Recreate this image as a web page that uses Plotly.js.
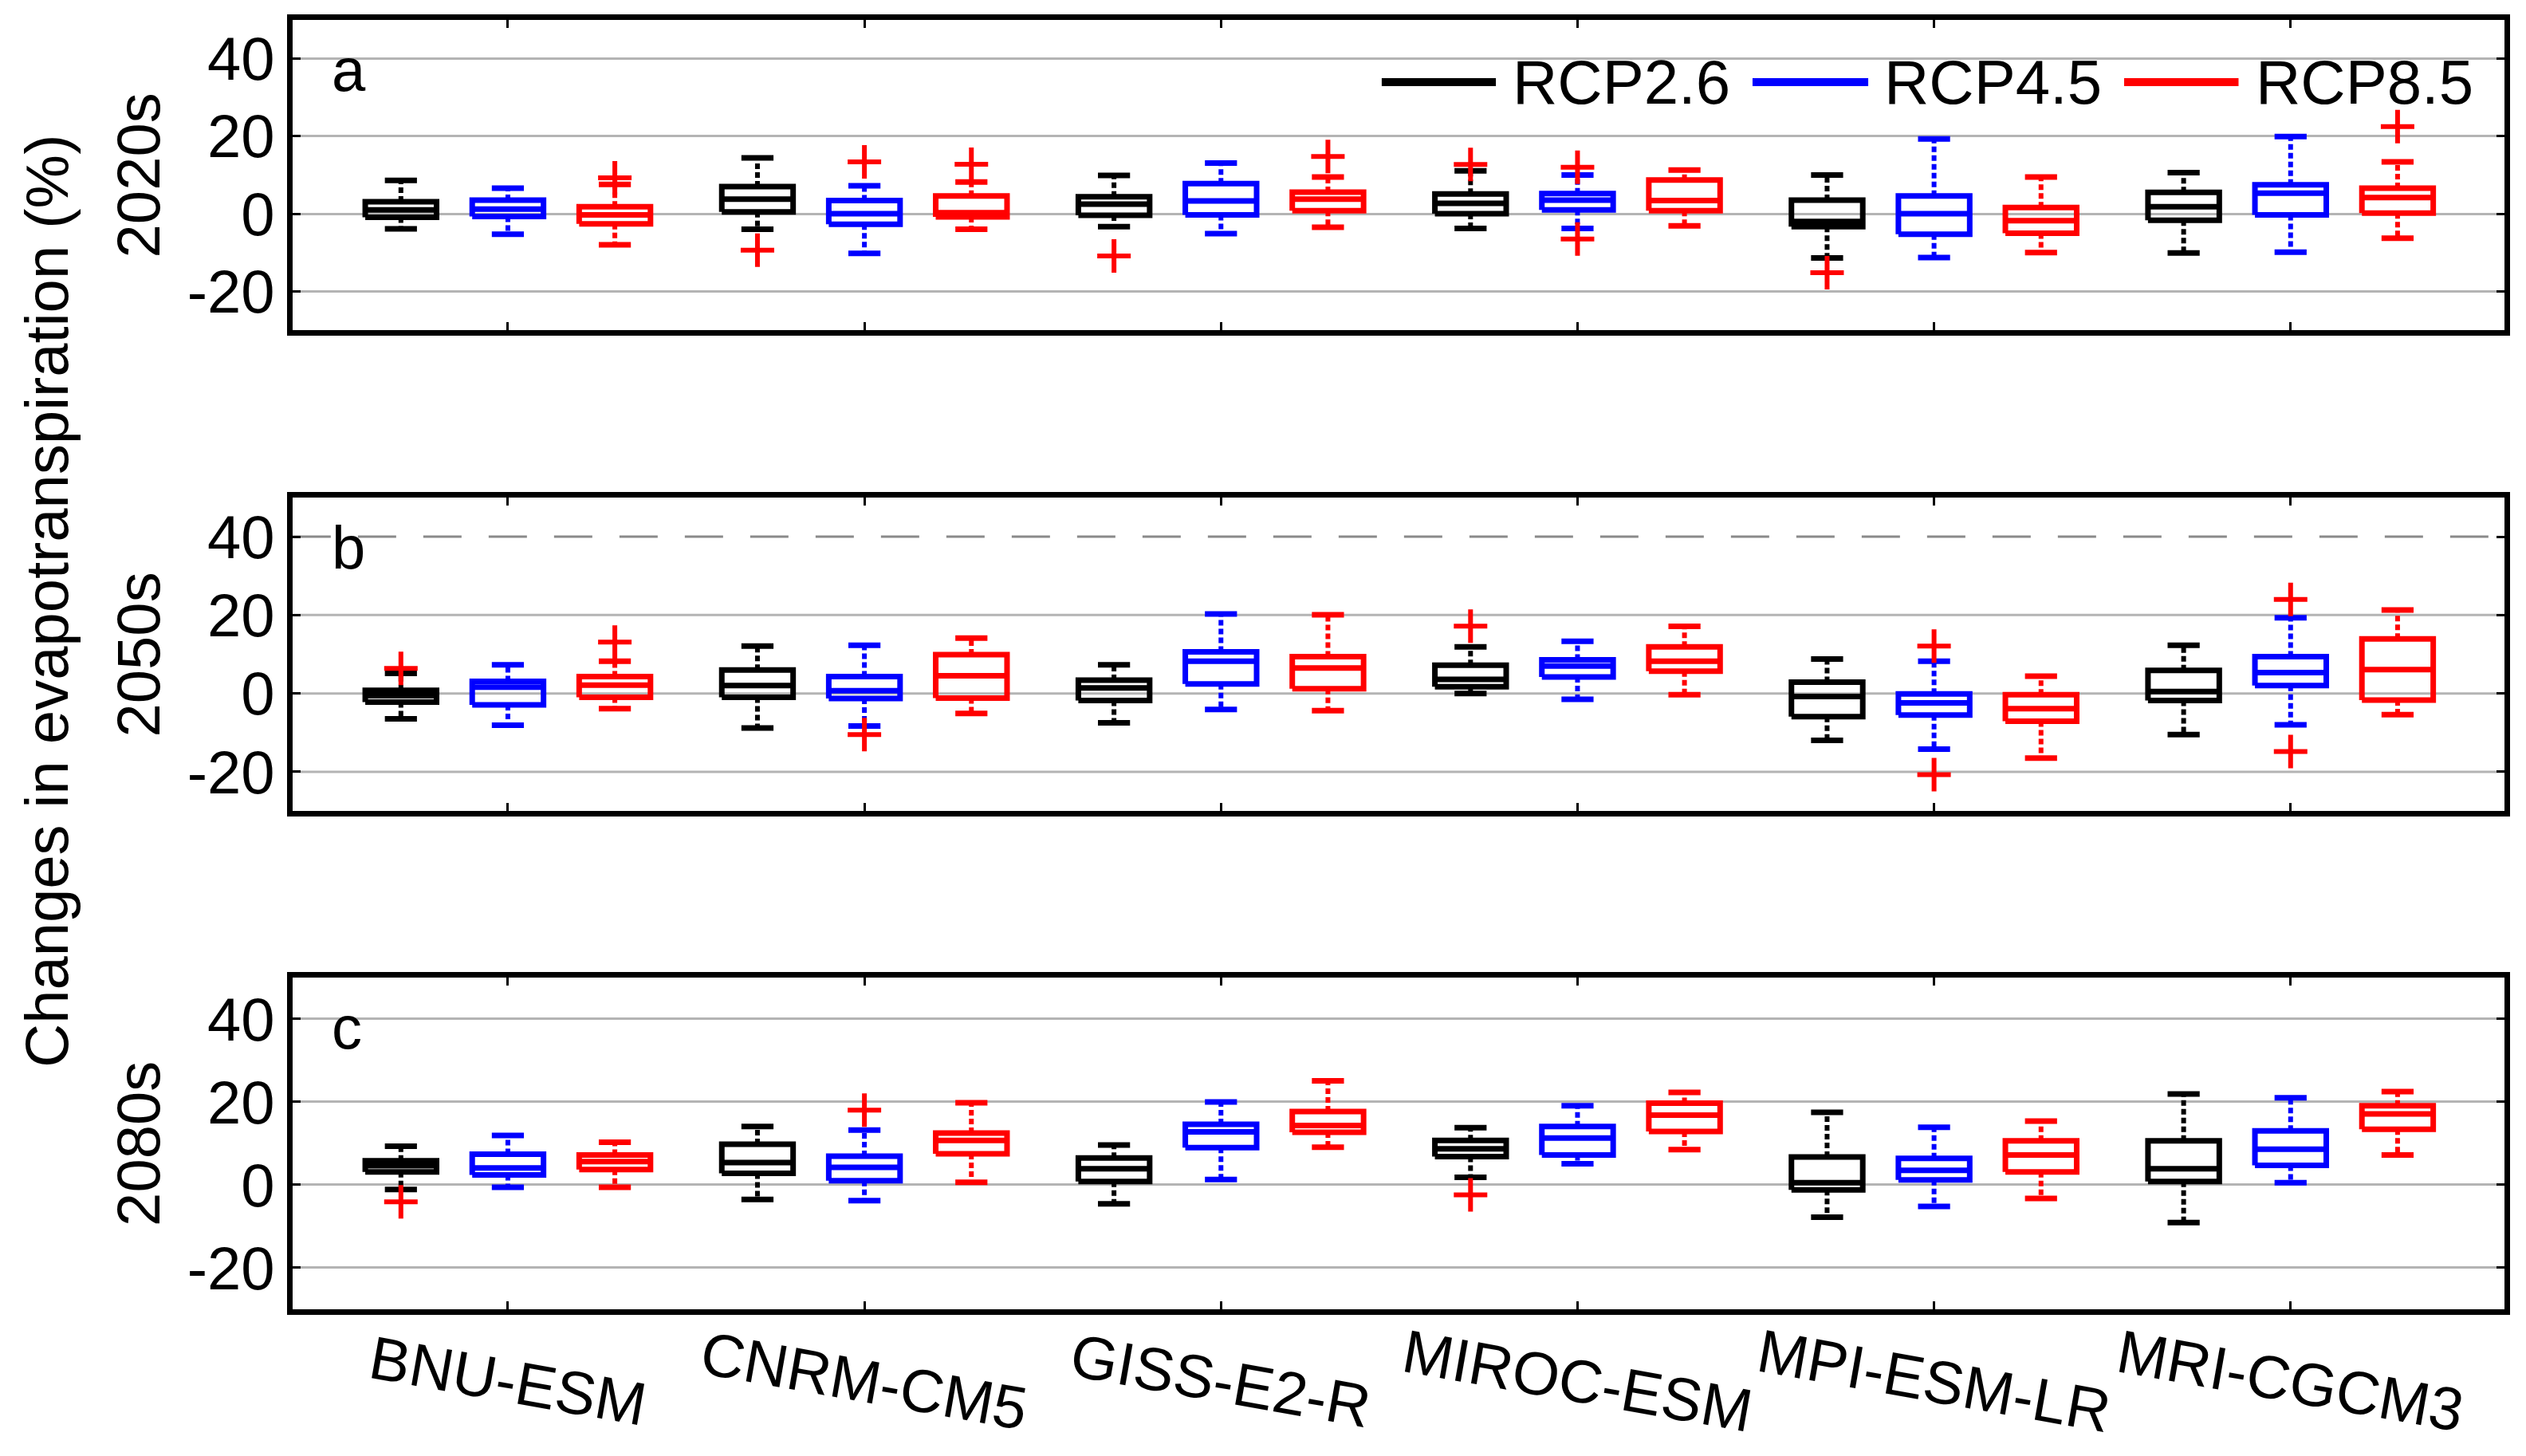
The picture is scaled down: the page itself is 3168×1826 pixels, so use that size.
<!DOCTYPE html>
<html>
<head>
<meta charset="utf-8">
<script src="https://cdn.plot.ly/plotly-3.0.1.min.js"></script>
<style>html,body{margin:0;padding:0;background:#fff;}#chart{width:3168px;height:1826px;}</style>
</head>
<body>
<div id="chart"></div>
<script>
// ---------- DATA ----------
const models = ['BNU-ESM','CNRM-CM5','GISS-E2-R','MIROC-ESM','MPI-ESM-LR','MRI-CGCM3'];
const scenarios = ['RCP2.6','RCP4.5','RCP8.5'];
const periods = ['2020s','2050s','2080s'];
const panelLetters = ['a','b','c'];
const yTickVals = [-20, 0, 20, 40];
const yTickText = ['-20', '0', '20', '40'];

// 2020s: rows = RCP2.6, RCP4.5, RCP8.5 ; columns = models
const p2020_lower  = [[-3.9,-4.0,-3.3,-3.8,-11.4,-10.1],[-5.3,-10.2,-5.1,-3.8,-11.3,-9.9],[-8.0,-4.0,-3.5,-3.1,-10.0,-6.3]];
const p2020_q1     = [[-0.9,0.5,-0.4,0.0,-3.3,-1.7],[-0.7,-2.7,-0.3,1.0,-5.3,-0.3],[-2.6,-0.8,0.8,0.8,-5.0,0.2]];
const p2020_median = [[1.0,3.8,2.5,2.7,-2.0,1.8],[1.2,0.0,3.3,3.5,0.0,5.3],[-0.3,0.3,3.8,3.4,-1.8,4.2]];
const p2020_q3     = [[3.1,7.0,4.4,5.1,3.5,5.5],[3.5,3.4,7.8,5.2,4.6,7.5],[1.8,4.6,5.6,8.7,1.6,6.6]];
const p2020_upper  = [[8.6,14.4,9.9,11.1,10.0,10.6],[6.6,7.2,13.1,10.0,19.3,19.9],[7.6,8.2,9.5,11.3,9.5,13.4]];
const p2020_outliers = [[[1,-9.4],[2,-10.9],[3,12.7],[4,-15.2]],[[1,13.4],[3,12.0],[3,-6.5]],[[0,9.3],[1,12.8],[2,14.8],[5,22.5]]];

// 2050s
const p2050_lower  = [[-6.5,-8.8,-7.5,0.0,-12.0,-10.5],[-8.1,-8.3,-4.1,-1.5,-14.2,-8.0],[-3.9,-5.1,-4.4,-0.3,-16.5,-5.4]];
const p2050_q1     = [[-2.2,-1.0,-1.8,1.7,-5.9,-1.8],[-2.9,-1.3,2.4,4.2,-5.5,2.0],[-1.0,-1.2,1.2,5.7,-7.1,-1.7]];
const p2050_median = [[-0.6,2.0,1.4,3.6,-0.8,0.5],[1.6,0.7,8.2,7.0,-2.4,5.3],[2.1,4.5,6.5,8.2,-3.9,6.1]];
const p2050_q3     = [[0.8,6.0,3.4,7.2,2.9,5.9],[3.1,4.3,10.6,8.6,-0.1,9.4],[4.3,9.9,9.4,11.9,-0.3,13.9]];
const p2050_upper  = [[5.1,12.1,7.3,11.9,8.8,12.3],[7.3,12.3,20.3,13.3,8.2,19.3],[8.2,14.1,20.1,17.1,4.4,21.3]];
const p2050_outliers = [[[0,6.4],[3,17.2]],[[1,-10.5],[4,12.1],[4,-20.7],[5,24.0],[5,-14.8]],[[0,13.1]]];

// 2080s
const p2080_lower  = [[-1.1,-3.5,-4.6,1.8,-7.8,-9.1],[-0.6,-3.8,1.3,5.1,-5.2,0.5],[-0.6,0.6,9.1,8.5,-3.3,7.2]];
const p2080_q1     = [[3.1,2.8,0.8,6.8,-1.2,0.8],[2.4,1.0,9.0,7.2,1.2,4.7],[3.7,7.5,12.7,12.9,3.1,13.4]];
const p2080_median = [[4.6,5.4,3.9,8.7,0.5,3.9],[4.1,4.2,12.8,11.3,3.5,8.6],[5.6,10.7,14.3,16.8,7.2,17.1]];
const p2080_q3     = [[5.8,9.8,6.5,10.7,6.7,10.6],[7.4,6.9,14.6,14.1,6.4,13.0],[7.2,12.5,17.7,19.7,10.6,19.1]];
const p2080_upper  = [[9.3,14.1,9.6,13.8,17.5,21.9],[11.9,13.2,20.0,19.1,13.9,21.0],[10.3,19.8,25.1,22.3,15.4,22.5]];
const p2080_outliers = [[[0,-4.1],[3,-2.4]],[[1,18.0]],[]];

// ---------- STYLE ----------
const colors = ['#000000', '#0000ff', '#ff0000'];
const outlierColor = '#ff0000';
const offsets = [-0.3, 0, 0.3];
const boxHalf = 0.1, capHalf = 0.045;
const FONT = 'Liberation Sans, Arial, sans-serif';
const FS = 76;

const panels = [
  {lower:p2020_lower, q1:p2020_q1, med:p2020_median, q3:p2020_q3, upper:p2020_upper, out:p2020_outliers, xa:'x', ya:'y', dom:[0.7733,0.9863]},
  {lower:p2050_lower, q1:p2050_q1, med:p2050_median, q3:p2050_q3, upper:p2050_upper, out:p2050_outliers, xa:'x2', ya:'y2', dom:[0.4430,0.6583]},
  {lower:p2080_lower, q1:p2080_q1, med:p2080_median, q3:p2080_q3, upper:p2080_upper, out:p2080_outliers, xa:'x3', ya:'y3', dom:[0.1008,0.3286]}
];

const traces = [];
panels.forEach((p) => {
  scenarios.forEach((sc, s) => {
    const col = colors[s];
    const wx=[], wy=[], bx=[], by=[], mx=[], my=[], cx=[], cy=[];
    models.forEach((m, i) => {
      const xc = i + offsets[s];
      const lo=p.lower[s][i], a=p.q1[s][i], md=p.med[s][i], b=p.q3[s][i], hi=p.upper[s][i];
      wx.push(xc, xc, null, xc, xc, null); wy.push(b, hi, null, a, lo, null);
      bx.push(xc-boxHalf, xc+boxHalf, xc+boxHalf, xc-boxHalf, xc-boxHalf, null);
      by.push(a, a, b, b, a, null);
      mx.push(xc-boxHalf, xc+boxHalf, null); my.push(md, md, null);
      cx.push(xc-capHalf, xc+capHalf, null, xc-capHalf, xc+capHalf, null);
      cy.push(hi, hi, null, lo, lo, null);
    });
    const base = {type:'scatter', mode:'lines', xaxis:p.xa, yaxis:p.ya, showlegend:false, hoverinfo:'skip'};
    traces.push(Object.assign({}, base, {x:wx, y:wy, line:{color:col, width:6, dash:'7px,4px'}}));
    traces.push(Object.assign({}, base, {x:bx, y:by, line:{color:col, width:7}}));
    traces.push(Object.assign({}, base, {x:mx, y:my, line:{color:col, width:7}}));
    traces.push(Object.assign({}, base, {x:cx, y:cy, line:{color:col, width:7}}));
  });
  scenarios.forEach((sc, s) => {
    const ox = p.out[s].map(d => d[0] + offsets[s]);
    const oy = p.out[s].map(d => d[1]);
    traces.push({type:'scatter', mode:'markers', x:ox, y:oy, xaxis:p.xa, yaxis:p.ya, showlegend:false,
      marker:{symbol:'cross-thin-open', size:30, color:outlierColor, line:{color:outlierColor, width:6}}});
  });
});

const xDom = [0.1158, 0.9915];
function xAxis(anchor) {
  return {domain:xDom, anchor:anchor, range:[-0.604, 5.6], tickmode:'array', tickvals:[0,1,2,3,4,5],
    showticklabels:false, ticks:'inside', ticklen:10, tickwidth:3, tickcolor:'#000',
    showline:true, linewidth:7, linecolor:'#000', mirror:'ticks', showgrid:false, zeroline:false, fixedrange:true};
}
function yAxis(anchor, dom, grid) {
  return {domain:dom, anchor:anchor, range:[-30, 50], tickmode:'array', tickvals:yTickVals, ticktext:yTickText,
    ticks:'inside', ticklen:10, tickwidth:3, tickcolor:'#000', ticklabelstandoff:0,
    tickfont:{family:FONT, size:FS, color:'#000'},
    showline:true, linewidth:7, linecolor:'#000', mirror:'ticks', showgrid:grid, gridcolor:'#b4b4b4', gridwidth:3,
    zeroline:false, fixedrange:true};
}

const shapes = [];
// panel b gridlines: solid at -20,0,20 and dashed at 40
[-20, 0, 20].forEach(v => shapes.push({type:'line', xref:'x2 domain', yref:'y2', x0:0, x1:1, y0:v, y1:v, layer:'below', line:{color:'#b4b4b4', width:3}}));
shapes.push({type:'line', xref:'x2 domain', yref:'y2', x0:0, x1:1, y0:40, y1:40, layer:'below', line:{color:'#8a8a8a', width:3, dash:'48px,34px'}});

const annotations = [];
// legend (manual)
const legX = [[0.5470, 0.5922, 0.5982], [0.6938, 0.7396, 0.7452], [0.8409, 0.8862, 0.8924]];
const legY = 0.9436;
scenarios.forEach((sc, s) => {
  shapes.push({type:'line', xref:'paper', yref:'paper', x0:legX[s][0], x1:legX[s][1], y0:legY, y1:legY, line:{color:colors[s], width:10}});
  annotations.push({xref:'paper', yref:'paper', x:legX[s][2], y:legY, xanchor:'left', yanchor:'middle', text:sc, showarrow:false,
    font:{family:FONT, size:FS+2, color:'#000'}});
});
// panel letters and period titles
panels.forEach((p, k) => {
  annotations.push({xref:p.xa + ' domain', yref:p.ya + ' domain', x:0.017, y:1, yshift:-18, xanchor:'left', yanchor:'top',
    text:panelLetters[k], showarrow:false, font:{family:FONT, size:FS, color:'#000'}});
  annotations.push({xref:'paper', yref:'paper', x:0.0549, y:(p.dom[0]+p.dom[1])/2, xanchor:'center', yanchor:'middle',
    text:periods[k], textangle:-90, showarrow:false, font:{family:FONT, size:FS, color:'#000'}});
});
annotations.push({xref:'paper', yref:'paper', x:0.0185, y:0.587, xanchor:'center', yanchor:'middle',
  text:'Changes in evapotranspiration (%)', textangle:-90, showarrow:false, font:{family:FONT, size:FS, color:'#000'}});
// model labels under bottom panel
models.forEach((m, i) => {
  annotations.push({xref:'x3', yref:'paper', x:i, y:0.052, xanchor:'center', yanchor:'middle', text:m, textangle:10,
    showarrow:false, font:{family:FONT, size:FS, color:'#000'}});
});

const layout = {
  width:3168, height:1826, margin:{l:0, r:0, t:0, b:0}, paper_bgcolor:'#fff', plot_bgcolor:'#fff',
  showlegend:false, font:{family:FONT, size:FS, color:'#000'},
  xaxis:xAxis('y'), yaxis:yAxis('x', panels[0].dom, true),
  xaxis2:xAxis('y2'), yaxis2:yAxis('x2', panels[1].dom, false),
  xaxis3:xAxis('y3'), yaxis3:yAxis('x3', panels[2].dom, true),
  shapes:shapes, annotations:annotations
};

Plotly.newPlot('chart', traces, layout, {staticPlot:true, displayModeBar:false});
</script>
</body>
</html>
